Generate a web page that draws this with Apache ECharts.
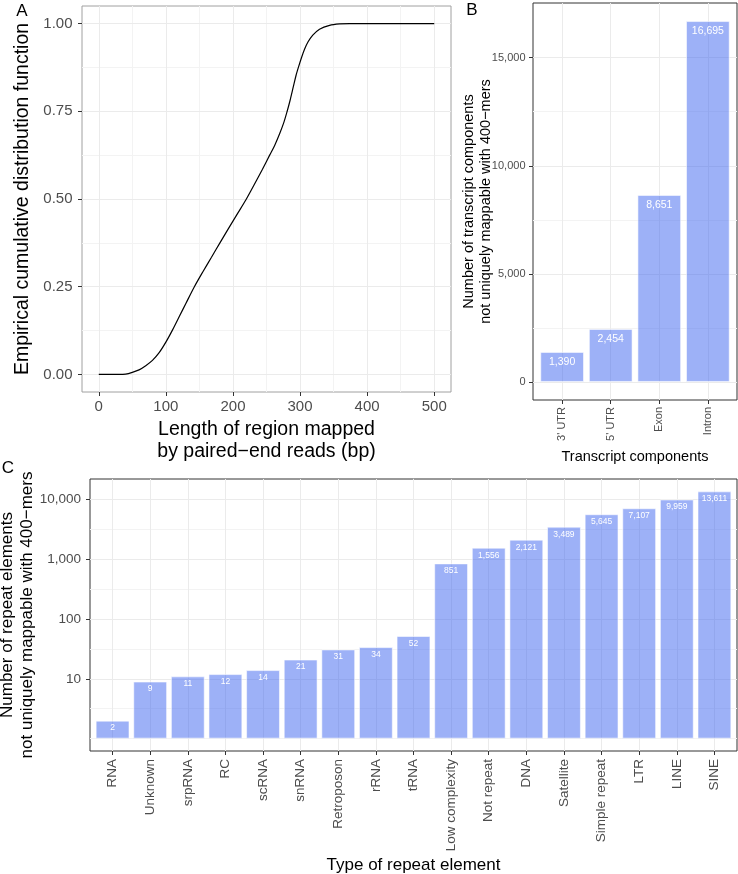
<!DOCTYPE html>
<html>
<head>
<meta charset="utf-8">
<script src="https://cdn.jsdelivr.net/npm/echarts@6/dist/echarts.min.js"></script>
<style>
html,body{margin:0;padding:0;background:#ffffff;}
#chart{width:738px;height:874px;}
</style>
</head>
<body>
<div id="chart"></div>
<script>
// ---------- Data ----------
// Panel A: empirical CDF of region length
const ecdfLength = [0, 30, 40, 50, 60, 70, 80, 90, 100, 110, 120, 130, 142.5, 155, 168, 180.6, 193, 207, 220, 232, 244, 254.7, 262, 270, 276, 280.8, 285, 290, 294, 298, 302, 307, 312, 319, 329, 344, 359, 374, 400, 450, 500];
const ecdfValue  = [0, 0, 0.001, 0.006, 0.013, 0.025, 0.040, 0.062, 0.092, 0.127, 0.165, 0.203, 0.25, 0.292, 0.334, 0.375, 0.415, 0.459, 0.5, 0.542, 0.585, 0.625, 0.652, 0.688, 0.719, 0.75, 0.78, 0.82, 0.852, 0.878, 0.902, 0.928, 0.948, 0.967, 0.984, 0.995, 0.999, 1.0, 1.0, 1.0, 1.0];
const ecdfXTicks = [0, 100, 200, 300, 400, 500];
const ecdfXMinor = [50, 150, 250, 350, 450];
const ecdfYTicks = [0, 0.25, 0.5, 0.75, 1];
const ecdfYMinor = [0.125, 0.375, 0.625, 0.875];

// Panel B: transcript components
const transcriptCategories = ["3' UTR", "5' UTR", "Exon", "Intron"];
const transcriptCounts = [1390, 2454, 8651, 16695];
const transcriptYTicks = [0, 5000, 10000, 15000];
const transcriptYMinor = [2500, 7500, 12500];

// Panel C: repeat elements (log scale)
const repeatCategories = ["RNA", "Unknown", "srpRNA", "RC", "scRNA", "snRNA", "Retroposon", "rRNA", "tRNA", "Low complexity", "Not repeat", "DNA", "Satellite", "Simple repeat", "LTR", "LINE", "SINE"];
const repeatCounts = [2, 9, 11, 12, 14, 21, 31, 34, 52, 851, 1556, 2121, 3489, 5645, 7107, 9959, 13611];
const repeatYTicks = [10, 100, 1000, 10000];
const repeatYMinor = [1, 3.1623, 31.623, 316.23, 3162.3];

// ---------- Styling ----------
const FONT = '"Liberation Sans", Arial, Helvetica, sans-serif';
const GRIDC = '#ebebeb';
const MINORC = '#f3f3f3';
const TICKC = '#333333';
const LABELC = '#4d4d4d';
const BAR = 'rgba(59,99,239,0.5)';

const fmtComma = v => Math.round(v).toLocaleString('en-US');
const seq = n => Array.from({length: n}, (_, i) => i + 1);

function majorAxis(o) {
  return Object.assign({
    type: 'value',
    axisLine: {show: false, onZero: false},
    axisTick: {show: true, length: 4, inside: false, lineStyle: {color: TICKC, width: 1}, customValues: o.ticks},
    axisLabel: {show: true, customValues: o.ticks, color: LABELC, fontFamily: FONT, fontSize: o.labelSize, margin: o.margin, formatter: o.fmt, rotate: o.rotate || 0},
    splitLine: {show: true, lineStyle: {color: GRIDC, width: 1}},
    nameMoveOverlap: false,
    nameTextStyle: {color: '#000', fontFamily: FONT, fontSize: o.nameSize, lineHeight: o.nameLH},
    nameLocation: 'middle',
    z: 1
  }, o.extra);
}
function minorAxis(o) {
  return Object.assign({
    type: 'value',
    axisLine: {show: false, onZero: false},
    axisTick: {show: false, customValues: o.ticks},
    axisLabel: {show: false, customValues: o.ticks},
    splitLine: {show: true, lineStyle: {color: MINORC, width: 1}},
    z: 0
  }, o.extra);
}

const chart = echarts.init(document.getElementById('chart'), null, {renderer: 'canvas', width: 738, height: 874});

const option = {
  animation: false,
  backgroundColor: '#ffffff',
  textStyle: {fontFamily: FONT},
  grid: [
    {left: 82, top: 6, width: 369, height: 386, show: true, borderColor: '#a0a0a0', borderWidth: 1, backgroundColor: 'transparent', containLabel: false, outerBoundsMode: 'none'},
    {left: 533, top: 3, width: 204, height: 397, show: true, borderColor: '#333333', borderWidth: 1, backgroundColor: 'transparent', containLabel: false, outerBoundsMode: 'none'},
    {left: 90, top: 479, width: 647, height: 272, show: true, borderColor: '#333333', borderWidth: 1, backgroundColor: 'transparent', containLabel: false, outerBoundsMode: 'none'}
  ],
  xAxis: [
    majorAxis({ticks: ecdfXTicks, labelSize: 15, margin: 7, fmt: v => String(v), nameSize: 19.5, nameLH: 22,
      extra: {gridIndex: 0, min: -25, max: 525, position: 'bottom', name: 'Length of region mapped\nby paired\u2212end reads (bp)', nameGap: 27}}),
    minorAxis({ticks: ecdfXMinor, extra: {gridIndex: 0, min: -25, max: 525, position: 'bottom'}}),
    majorAxis({ticks: seq(transcriptCategories.length), labelSize: 11, margin: 7, rotate: 90,
      fmt: v => transcriptCategories[Math.round(v) - 1] || '', nameSize: 14.5, nameLH: 17,
      extra: {gridIndex: 1, min: 0.4, max: transcriptCategories.length + 0.6, position: 'bottom', name: 'Transcript components', nameGap: 48}}),
    majorAxis({ticks: seq(repeatCategories.length), labelSize: 13.5, margin: 8, rotate: 90,
      fmt: v => repeatCategories[Math.round(v) - 1] || '', nameSize: 17, nameLH: 20,
      extra: {gridIndex: 2, min: 0.4, max: repeatCategories.length + 0.6, position: 'bottom', name: 'Type of repeat element', nameGap: 104}})
  ],
  yAxis: [
    majorAxis({ticks: ecdfYTicks, labelSize: 15, margin: 9.5, fmt: v => v.toFixed(2), nameSize: 19.5, nameLH: 22,
      extra: {gridIndex: 0, min: -0.05, max: 1.05, position: 'left', name: 'Empirical cumulative distribution function', nameGap: 48}}),
    minorAxis({ticks: ecdfYMinor, extra: {gridIndex: 0, min: -0.05, max: 1.05, position: 'left'}}),
    majorAxis({ticks: transcriptYTicks, labelSize: 11, margin: 7.5, fmt: fmtComma, nameSize: 14.5, nameLH: 17,
      extra: {gridIndex: 1, min: -835, max: 17530, position: 'left', name: 'Number of transcript components\nnot uniquely mappable with 400\u2212mers', nameGap: 39}}),
    minorAxis({ticks: transcriptYMinor, extra: {gridIndex: 1, min: -835, max: 17530, position: 'left'}}),
    majorAxis({ticks: repeatYTicks, labelSize: 13.5, margin: 9, fmt: fmtComma, nameSize: 17, nameLH: 20.5,
      extra: {type: 'log', logBase: 10, gridIndex: 2, min: 0.6214, max: 21910, position: 'left', name: 'Number of repeat elements\nnot uniquely mappable with 400\u2212mers', nameGap: 52}}),
    minorAxis({ticks: repeatYMinor, extra: {type: 'log', logBase: 10, gridIndex: 2, min: 0.6214, max: 21910, position: 'left'}})
  ],
  series: [
    {
      type: 'line', xAxisIndex: 0, yAxisIndex: 0,
      data: ecdfLength.map((x, i) => [x, ecdfValue[i]]),
      showSymbol: false, symbol: 'none', smooth: 0.3,
      lineStyle: {color: '#000000', width: 1.2}, z: 5
    },
    {
      type: 'bar', xAxisIndex: 2, yAxisIndex: 2,
      data: transcriptCounts.map((v, i) => [i + 1, v]),
      barWidth: '90%',
      itemStyle: {color: BAR, borderColor: 'rgba(255,255,255,0.55)', borderWidth: 1},
      label: {show: true, position: 'insideTop', distance: 5, color: '#ffffff', fontFamily: FONT, fontSize: 10.5,
        formatter: p => fmtComma(p.value[1])},
      z: 5
    },
    {
      type: 'bar', xAxisIndex: 3, yAxisIndex: 4,
      data: repeatCounts.map((v, i) => [i + 1, v]),
      barWidth: '90%',
      itemStyle: {color: BAR, borderColor: 'rgba(255,255,255,0.55)', borderWidth: 1},
      label: {show: true, position: 'insideTop', distance: 3, color: '#ffffff', fontFamily: FONT, fontSize: 8.5,
        formatter: p => fmtComma(p.value[1])},
      z: 5
    }
  ],
  graphic: [
    {type: 'text', x: 22, y: 11, style: {text: 'A', fill: '#000', font: '17px ' + FONT, align: 'center', verticalAlign: 'middle'}},
    {type: 'text', x: 472, y: 10, style: {text: 'B', fill: '#000', font: '17px ' + FONT, align: 'center', verticalAlign: 'middle'}},
    {type: 'text', x: 8, y: 468, style: {text: 'C', fill: '#000', font: '17px ' + FONT, align: 'center', verticalAlign: 'middle'}}
  ]
};
chart.setOption(option);
</script>
</body>
</html>
